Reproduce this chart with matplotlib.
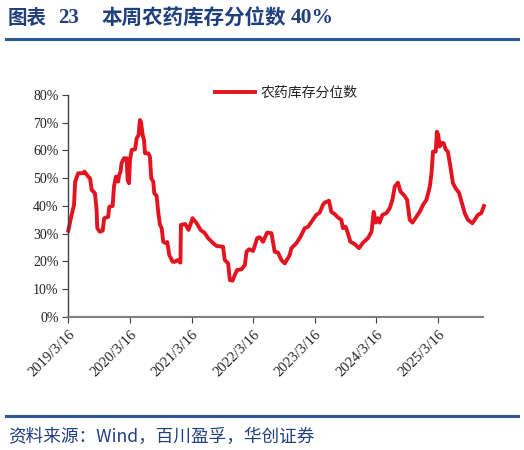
import matplotlib
matplotlib.use("Agg")
import matplotlib.pyplot as plt
import matplotlib.dates as mdates
from matplotlib.ticker import FixedLocator, FuncFormatter
import pandas as pd

# ---- data ----
dates = [
    "2019-03-16", "2019-04-05", "2019-04-19", "2019-04-26", "2019-05-14", "2019-06-13", "2019-06-20",
    "2019-07-12", "2019-07-23", "2019-08-02", "2019-08-21", "2019-08-31", "2019-09-04", "2019-09-20",
    "2019-10-06", "2019-10-15", "2019-11-08", "2019-11-14", "2019-12-04", "2019-12-12", "2019-12-24",
    "2020-01-06", "2020-01-12", "2020-01-20", "2020-01-26", "2020-02-09", "2020-02-25", "2020-03-02",
    "2020-03-10", "2020-03-16", "2020-03-26", "2020-04-15", "2020-04-25", "2020-05-06", "2020-05-14",
    "2020-05-20", "2020-05-30", "2020-06-07", "2020-06-13", "2020-07-02", "2020-07-12", "2020-07-20",
    "2020-08-01", "2020-08-07", "2020-08-21", "2020-08-31", "2020-09-10", "2020-09-20", "2020-09-29",
    "2020-10-15", "2020-10-23", "2020-11-04", "2020-11-24", "2020-12-08", "2020-12-22", "2021-01-03",
    "2021-01-09", "2021-01-12", "2021-02-06", "2021-02-26", "2021-03-22", "2021-04-15", "2021-05-08",
    "2021-06-03", "2021-06-22", "2021-07-22", "2021-08-11", "2021-09-19", "2021-09-29", "2021-10-19",
    "2021-10-29", "2021-11-14", "2021-11-27", "2021-12-11", "2022-01-06", "2022-01-26", "2022-02-05",
    "2022-02-20", "2022-03-16", "2022-04-09", "2022-04-25", "2022-05-14", "2022-06-07", "2022-07-03",
    "2022-07-22", "2022-08-11", "2022-08-31", "2022-09-20", "2022-10-19", "2022-10-29", "2022-11-28",
    "2022-12-22", "2023-01-16", "2023-02-05", "2023-02-25", "2023-03-26", "2023-04-15", "2023-05-04",
    "2023-05-14", "2023-06-09", "2023-06-23", "2023-07-12", "2023-08-01", "2023-08-21", "2023-08-31",
    "2023-09-16", "2023-09-29", "2023-10-14", "2023-11-08", "2023-12-04", "2023-12-28", "2024-01-26",
    "2024-02-16", "2024-02-29", "2024-03-12", "2024-03-25", "2024-04-04", "2024-04-21", "2024-05-14",
    "2024-06-03", "2024-06-19", "2024-07-03", "2024-07-22", "2024-08-06", "2024-08-31", "2024-09-14",
    "2024-09-30", "2024-10-16", "2024-11-08", "2024-11-28", "2024-12-18", "2025-01-07", "2025-01-27",
    "2025-02-06", "2025-02-15", "2025-03-03", "2025-03-10", "2025-03-18", "2025-03-26", "2025-04-05",
    "2025-04-19", "2025-05-01", "2025-05-14", "2025-05-29", "2025-06-13", "2025-06-29", "2025-07-19",
    "2025-08-08", "2025-08-22", "2025-09-10", "2025-10-06", "2025-10-20", "2025-11-08", "2025-11-28",
    "2025-12-14",
]
values = [
    31.1, 36.8, 40.4, 48.8, 51.8, 51.8, 52.4,
    50.6, 50.0, 45.8, 44.6, 38.6, 32.0, 30.7,
    31.1, 35.6, 36.1, 39.7, 40.0, 47.0, 50.6,
    48.8, 51.2, 52.4, 55.4, 57.2, 57.2, 49.4,
    48.2, 56.6, 60.2, 60.4, 64.4, 65.6, 71.0,
    70.4, 65.6, 63.8, 59.0, 59.0, 57.8, 50.0,
    48.8, 44.6, 43.6, 37.4, 33.2, 32.0, 27.1,
    26.6, 27.0, 22.3, 19.9, 19.9, 20.5, 19.9,
    19.6, 33.2, 33.5, 31.4, 35.6, 33.8, 31.4,
    30.2, 28.4, 26.6, 25.6, 25.3, 20.5, 19.3,
    13.3, 13.1, 15.1, 16.9, 17.2, 18.7, 23.5,
    24.4, 23.8, 28.4, 28.7, 27.1, 30.4, 30.2,
    23.5, 23.2, 20.5, 19.3, 22.3, 24.8, 26.6,
    28.9, 32.0, 32.5, 34.3, 36.8, 37.6, 40.4,
    41.2, 41.9, 37.9, 37.1, 35.9, 35.0, 32.0,
    32.5, 30.2, 27.1, 26.3, 24.8, 26.8, 28.4,
    30.7, 37.9, 34.0, 35.6, 34.0, 36.8, 37.4,
    39.2, 42.2, 47.0, 48.4, 45.2, 43.6, 42.2,
    35.0, 34.0, 36.1, 37.9, 40.4, 42.2, 47.0,
    51.8, 59.6, 59.6, 66.8, 65.6, 61.4, 62.8,
    62.6, 60.4, 59.6, 54.2, 48.2, 46.4, 44.8,
    40.4, 37.4, 35.0, 33.8, 35.0, 36.8, 37.4,
    40.0,
]
tick_dates = ["2019-03-16", "2020-03-16", "2021-03-16", "2022-03-16",
              "2023-03-16", "2024-03-16", "2025-03-16"]
tick_labels = ["2019/3/16", "2020/3/16", "2021/3/16", "2022/3/16",
               "2023/3/16", "2024/3/16", "2025/3/16"]
y_ticks = [0, 10, 20, 30, 40, 50, 60, 70, 80]
series_name = "农药库存分位数"
title_parts = ["图表", "23", "本周农药库存分位数", "40%"]
source_text = "资料来源：Wind，百川盈孚，华创证券"

# ---- figure ----
plt.rcParams['font.family'] = ['Noto Sans CJK SC', 'DejaVu Sans']
fig = plt.figure(figsize=(5.24, 4.5), dpi=100)
ax = fig.add_axes([0.1303, 0.2956, 0.7920, 0.4933])

x = pd.to_datetime(dates)
y = [v / 100 for v in values]
ax.plot(x, y, color='#E3141F', lw=2.8, solid_joinstyle='round', label=series_name,
        clip_on=False)

ax.set_ylim(0, 0.8)
ax.set_xlim(pd.Timestamp("2019-03-16"), pd.Timestamp("2025-12-10"))
ax.yaxis.set_major_locator(FixedLocator([t / 100 for t in y_ticks]))
ax.yaxis.set_major_formatter(FuncFormatter(lambda v, p: f"{v*100:.0f}%"))
tk = mdates.date2num(pd.to_datetime(tick_dates))
ax.set_xticks(tk)
ax.set_xticklabels(tick_labels, rotation=45, ha='right', va='top',
                   rotation_mode='anchor', fontfamily='Liberation Serif', fontsize=10.5)
for lbl in ax.get_yticklabels():
    lbl.set_fontfamily('Liberation Serif')
    lbl.set_fontsize(10)

for s in ['top', 'right']:
    ax.spines[s].set_visible(False)
ax.spines['left'].set_color('#404040')
ax.spines['bottom'].set_color('#808080')
ax.spines['left'].set_linewidth(1.0)
ax.spines['bottom'].set_linewidth(1.5)
ax.tick_params(axis='y', direction='out', length=4, color='#404040', pad=3, labelcolor='#222222')
ax.tick_params(axis='x', direction='out', length=4, color='#404040', pad=4, labelcolor='#222222')

leg = ax.legend(loc='center left', bbox_to_anchor=(0.3535, 1.0104), frameon=False,
                borderpad=0, borderaxespad=0,
                handlelength=2.9, handletextpad=0.36,
                prop={'family': ['Noto Sans CJK SC'], 'size': 10})
for t in leg.get_texts():
    t.set_color('#222222')

# header and footer
blue = '#1F3F7F'
W, H = 524.0, 450.0
ty = 1 - 18 / H
fig.text(8 / W, ty, title_parts[0], color=blue, fontsize=14, fontweight='bold',
         ha='left', va='center', family=['Noto Sans CJK SC'])
fig.text(58 / W, ty, title_parts[1], color=blue, fontsize=15, fontweight='bold',
         ha='left', va='center', family=['Liberation Serif'])
fig.text(102 / W, ty, title_parts[2], color=blue, fontsize=14.8, fontweight='bold',
         ha='left', va='center', family=['Noto Sans CJK SC'])
fig.text(291 / W, ty, title_parts[3], color=blue, fontsize=15.5, fontweight='bold',
         ha='left', va='center', family=['Liberation Serif'])
fig.add_artist(plt.Line2D([6 / W, 518 / W], [1 - 38.5 / H, 1 - 38.5 / H], color='#2F5597', lw=2.2,
                          transform=fig.transFigure))
fig.add_artist(plt.Line2D([6 / W, 518 / W], [1 - 416 / H, 1 - 416 / H], color='#2F5597', lw=2.2,
                          transform=fig.transFigure))
fig.text(8 / W, 1 - 437 / H, source_text, color=blue, fontsize=12.7, fontstyle='italic',
         ha='left', va='center', family=['Noto Sans CJK SC', 'DejaVu Sans'])

fig.savefig("out.png", dpi=100)
